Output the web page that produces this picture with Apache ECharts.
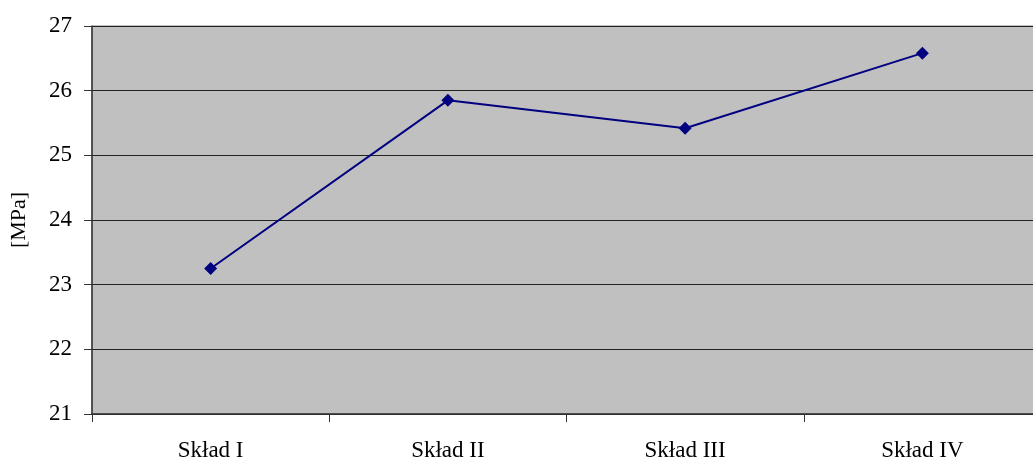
<!DOCTYPE html>
<html><head><meta charset="utf-8">
<script src="https://cdn.jsdelivr.net/npm/echarts@6/dist/echarts.min.js"></script>
<style>html,body{margin:0;padding:0;background:#fff}#c{width:1033px;height:461px}</style>
</head><body><div id="c"></div>
<script>
const categories = ['Skład I', 'Skład II', 'Skład III', 'Skład IV'];
const values = [23.25, 25.85, 25.42, 26.58];
const yMin = 21, yMax = 27, yStep = 1;
const yName = '[MPa]';

const chart = echarts.init(document.getElementById('c'));
chart.setOption({
  animation: false,
  textStyle: { fontFamily: 'Liberation Serif' },
  grid: { left: 92, top: 26, width: 949, height: 388, outerBoundsMode: 'none', containLabel: false,
          show: true, backgroundColor: '#c0c0c0', borderColor: '#808080', borderWidth: 1 },
  xAxis: {
    type: 'category', data: categories, boundaryGap: true,
    axisLine: { lineStyle: { color: '#333', width: 1.5 } },
    axisTick: { show: true, length: 8, lineStyle: { color: '#333' } },
    axisLabel: { color: '#000', fontSize: 23, fontFamily: 'Liberation Serif', margin: 25 }
  },
  yAxis: {
    type: 'value', min: yMin, max: yMax, interval: yStep,
    name: yName, nameLocation: 'middle', nameGap: 62, nameRotate: 90,
    nameTextStyle: { color: '#000', fontSize: 22, fontFamily: 'Liberation Serif' },
    axisLine: { show: true, lineStyle: { color: '#333', width: 1.5 } },
    axisTick: { show: true, length: 8, lineStyle: { color: '#333' } },
    axisLabel: { color: '#000', fontSize: 23, fontFamily: 'Liberation Serif', margin: 20 },
    splitLine: { show: true, lineStyle: { color: '#222', width: 1 } }
  },
  series: [{
    type: 'line', data: values, symbol: 'diamond', symbolSize: 13,
    lineStyle: { color: '#000080', width: 2 },
    itemStyle: { color: '#000080' }
  }]
});
</script></body></html>
